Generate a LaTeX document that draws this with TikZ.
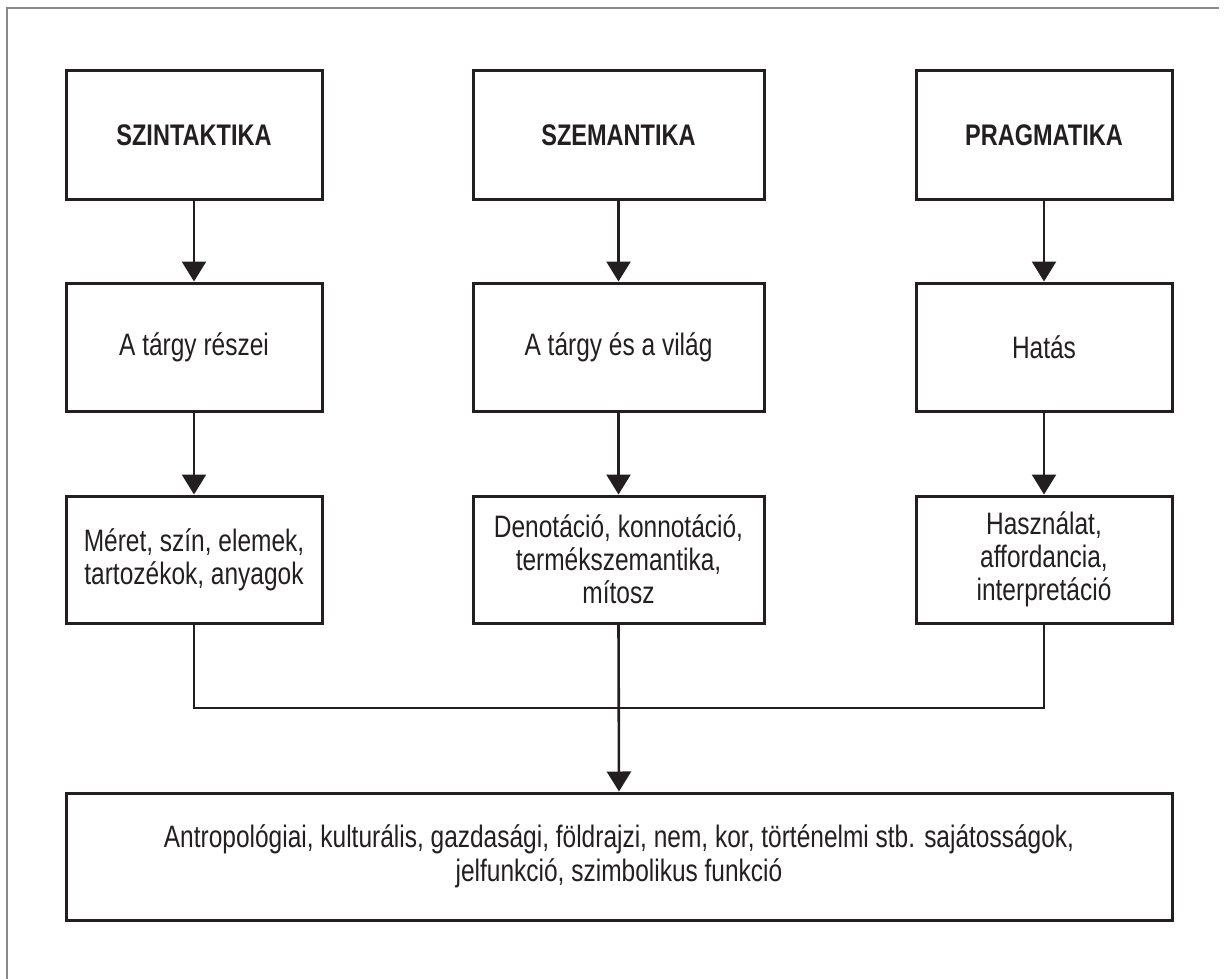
\documentclass[tikz,border=0pt]{standalone}
\usepackage{fontspec}
\setmainfont{Liberation Sans}[FakeStretch=0.79]
\usetikzlibrary{arrows.meta}
\definecolor{ink}{HTML}{231F20}
\definecolor{framegray}{HTML}{8A8A8A}
\begin{document}
\begin{tikzpicture}[x=1pt,y=-1pt,
  box/.style={draw=ink,line width=3pt,align=center,inner sep=0pt,
    text=ink,font=\fontsize{31}{33}\selectfont,minimum height=128pt},
  narrow/.style={box,minimum width=256pt},
  wide/.style={box,minimum width=291pt},
  title/.style={font=\bfseries\fontsize{29.8}{33}\selectfont},
  link/.style={draw=ink,line width=2.6pt},
  arr/.style={link,-{Triangle[width=24pt,length=20pt]}}]
  \useasboundingbox (0,0) rectangle (1228,979);
  % outer frame, top and left edges only
  \draw[framegray,line width=2pt] (7,979) -- (7,8) -- (1219,8);

  % first row: the three branches
  \node[narrow,title] (s1) at (194,135)   {SZINTAKTIKA};
  \node[wide,title]   (s2) at (618.5,135) {SZEMANTIKA};
  \node[narrow,title] (s3) at (1044,135)  {PRAGMATIKA};

  % second row
  \node[narrow] (t1) at (194,347)   {A tárgy részei};
  \node[wide]   (t2) at (618.5,347) {A tárgy és a világ};
  \node[narrow] (t3) at (1044,347)  {Hatás};

  % third row
  \node[narrow,minimum height=127pt] (u1) at (194,559.5)
    {Méret, szín, elemek,\\tartozékok, anyagok};
  \node[wide,minimum height=127pt]   (u2) at (618.5,559.5)
    {Denotáció, konnotáció,\\termékszemantika,\\mítosz};
  \node[narrow,minimum height=127pt] (u3) at (1044,559.5)
    {Használat,\\affordancia,\\interpretáció};

  % common box
  \node[box,minimum width=1106pt,minimum height=127pt,
        font=\fontsize{31}{34}\selectfont] (all) at (619,856.5)
    {Antropológiai, kulturális, gazdasági, földrajzi, nem, kor, történelmi stb. sajátosságok,\\
     jelfunkció, szimbolikus funkció};

  % vertical arrows inside each column
  \draw[arr] (s1) -- (t1);
  \draw[arr] (s2) -- (t2);
  \draw[arr] (s3) -- (t3);
  \draw[arr] (t1) -- (u1);
  \draw[arr] (t2) -- (u2);
  \draw[arr] (t3) -- (u3);

  % joining bar and final arrow
  \coordinate (j) at (618.5,708);
  \draw[link] (u1.south) -- (u1.south |- j) -- (u3.south |- j) -- (u3.south);
  \draw[arr] (u2.south) -- (all.north);
\end{tikzpicture}
\end{document}
